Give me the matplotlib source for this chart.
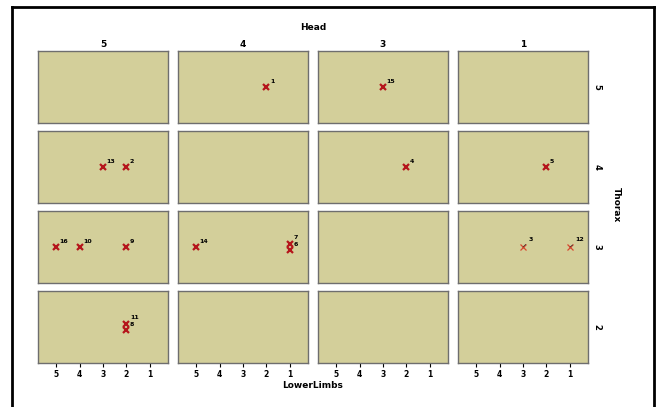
import matplotlib
matplotlib.use("Agg")
import matplotlib.pyplot as plt
from matplotlib.lines import Line2D

# panel facets
head_levels = [5, 4, 3, 1]      # columns
thorax_levels = [5, 4, 3, 2]    # rows
ll_ticks = [5, 4, 3, 2, 1]

# cases: head, thorax, lower limbs, case label, small vertical jitter
head = [4, 3, 5, 5, 3, 1, 5, 5, 5, 4, 4, 4, 1, 1, 5, 5]
thorax = [5, 5, 4, 4, 4, 4, 3, 3, 3, 3, 3, 3, 3, 3, 2, 2]
lower = [2, 3, 3, 2, 2, 2, 5, 4, 2, 5, 1, 1, 3, 1, 2, 2]
case_id = ["1", "15", "13", "2", "4", "5", "16", "10", "9", "14", "7", "6", "3", "12", "11", "8"]
jitter = [0, 0, 0, 0, 0, 0, 0, 0, 0, 0, 0.09, -0.09, 0, 0, 0.09, -0.09]

W, H = 659, 407
fig = plt.figure(figsize=(W / 100, H / 100), dpi=100)

# outer frame
for xs, ys in [((12, 12), (-5, 7)), ((12, 654), (7, 7)), ((654, 654), (7, -5))]:
    fig.add_artist(Line2D([x / W for x in xs], [1 - y / H if y >= 0 else 0 for y in ys],
                          color="black", lw=2, transform=fig.transFigure))

face = "#d3cf9a"
x0, pw, gx = 38, 130, 10
y0, ph, gy = 51, 72, 8

for r, th in enumerate(thorax_levels):
    for c, hd in enumerate(head_levels):
        left = x0 + c * (pw + gx)
        top = y0 + r * (ph + gy)
        ax = fig.add_axes([left / W, 1 - (top + ph) / H, pw / W, ph / H])
        ax.set_facecolor(face)
        for s in ax.spines.values():
            s.set_color("#6e6e6e")
            s.set_linewidth(1.0)
        ax.set_xlim(5.77, 0.23)
        ax.set_ylim(-1, 1)
        ax.set_yticks([])
        if r == len(thorax_levels) - 1:
            ax.set_xticks(ll_ticks)
            ax.set_xticklabels([str(t) for t in ll_ticks], fontsize=5.5, fontweight="bold")
            ax.tick_params(axis="x", length=3, width=0.8, pad=2)
        else:
            ax.set_xticks([])
        if r == 0:
            ax.set_title(str(hd), fontsize=6.5, fontweight="bold", pad=3)
        if c == len(head_levels) - 1:
            ax.text(1.07, 0.5, str(th), transform=ax.transAxes, rotation=-90,
                    fontsize=6, fontweight="bold", ha="center", va="center")

        for h, t, l, lab, j in zip(head, thorax, lower, case_id, jitter):
            if h != hd or t != th:
                continue
            thin = (h == 1 and t == 3)
            ax.plot(l, j, marker="x", ms=5, mew=0.9 if thin else 1.6,
                    color="#d9472e" if thin else "#b5161b", ls="none")
            if thin:
                ax.annotate(lab, (l, j), xytext=(4, 3.5), textcoords="offset points",
                            fontsize=4.5, fontweight="bold", ha="left", va="bottom",
                            arrowprops=dict(arrowstyle="-", lw=0.5, color="#333333",
                                            shrinkA=0, shrinkB=0))
            else:
                ax.annotate(lab, (l, j), xytext=(2.5, 2.5), textcoords="offset points",
                            fontsize=4.5, fontweight="bold", ha="left", va="bottom")

fig.text(313 / W, 1 - 28 / H, "Head", fontsize=6.5, fontweight="bold", ha="center", va="center")
fig.text(313 / W, 1 - 386 / H, "LowerLimbs", fontsize=6.5, fontweight="bold", ha="center", va="center")
fig.text(616 / W, 1 - 205 / H, "Thorax", fontsize=6.5, fontweight="bold", rotation=-90,
         ha="center", va="center")

fig.savefig("out.png", dpi=100)
